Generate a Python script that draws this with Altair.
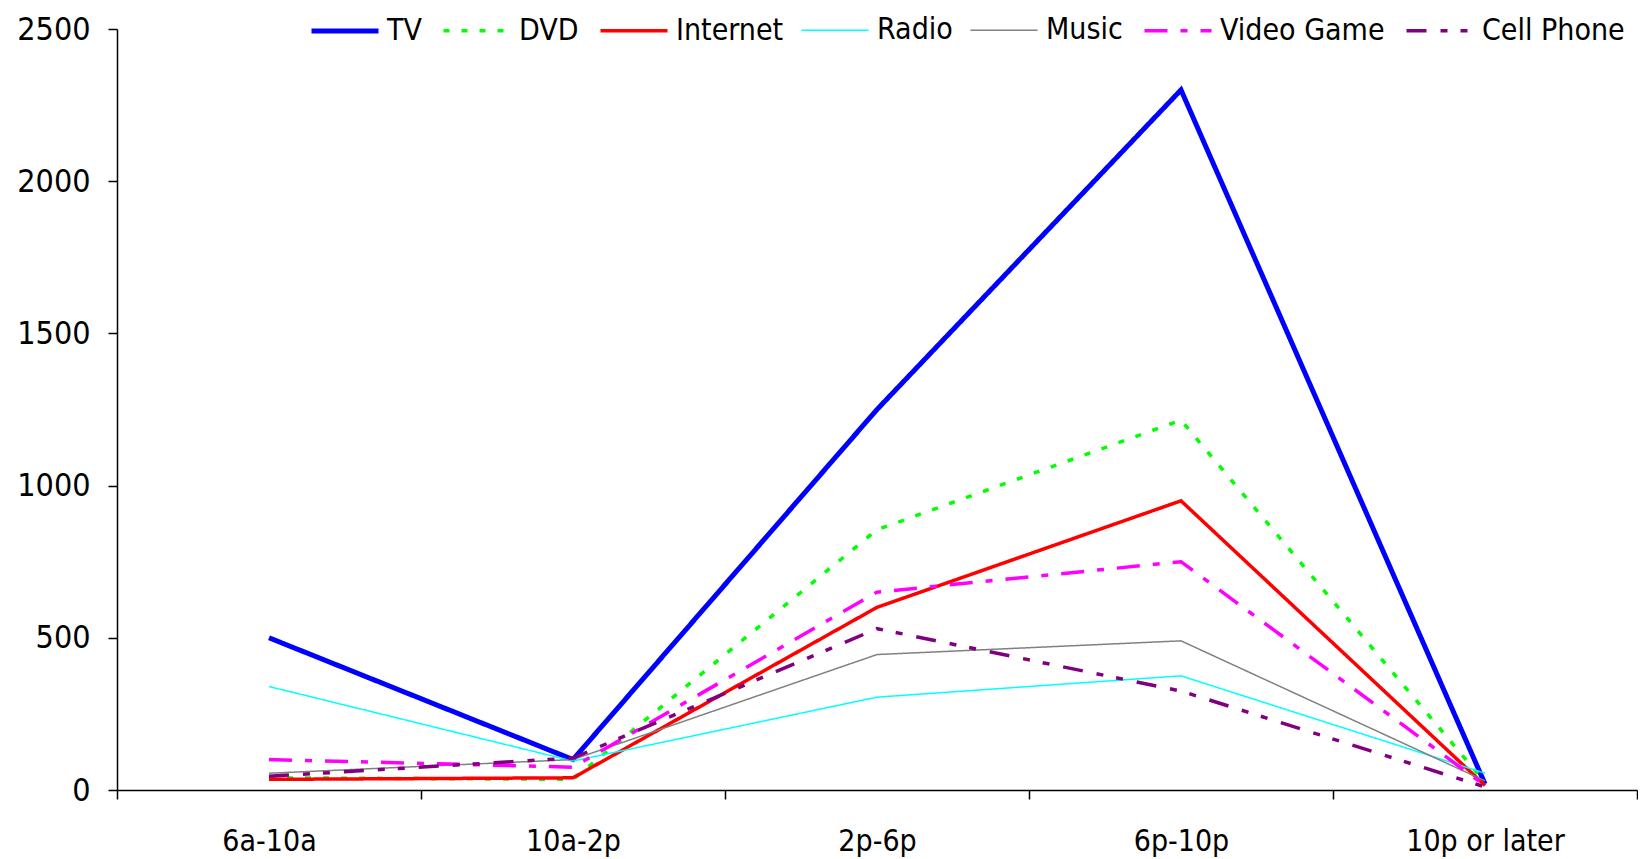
import altair as alt
import pandas as pd

periods = ["6a-10a", "10a-2p", "2p-6p", "6p-10p", "10p or later"]
series = ["TV", "DVD", "Internet", "Radio", "Music", "Video Game", "Cell Phone"]

tv = [500, 100, 1250, 2300, 20]
dvd = [40, 35, 855, 1215, 25]
internet = [35, 40, 600, 950, 15]
radio = [340, 95, 305, 375, 55]
music = [55, 100, 445, 490, 30]
video_game = [100, 75, 650, 750, 15]
cell_phone = [45, 105, 530, 325, 10]

values = [tv, dvd, internet, radio, music, video_game, cell_phone]

colors = ["#0000FF", "#00FF00", "#FF0000", "#00FFFF", "#808080", "#FF00FF", "#800080"]
widths = [5, 3.5, 3.5, 1.5, 1.5, 3.5, 3.5]
dashes = [[1, 0], [6, 12], [1, 0], [1, 0], [1, 0], [23, 13, 7, 13], [20, 14, 7, 13, 7, 14]]

rows = []
for s, vals in zip(series, values):
    for p, v in zip(periods, vals):
        rows.append({"series": s, "period": p, "value": v, "order": series.index(s)})
df = pd.DataFrame(rows)

FONT = "DejaVu Sans Condensed"

legend = alt.Legend(
    title=None, orient="none", direction="horizontal", columns=7,
    legendX=192, legendY=-34, symbolType="stroke", symbolSize=4489,
    labelFontSize=30, labelFont=FONT, labelColor="black", labelOffset=6,
    labelLimit=0, columnPadding=14, symbolOffset=0, padding=0,
)

chart = alt.Chart(df).mark_line().encode(
    x=alt.X("period:N", sort=periods,
            scale=alt.Scale(paddingInner=0, paddingOuter=0),
            axis=alt.Axis(title=None, labelAngle=0, tickBand="extent", labelFontSize=30,
                          labelFont=FONT, labelColor="black", labelPadding=27,
                          tickSize=9, tickColor="black", domainColor="black",
                          domainWidth=1.5, tickWidth=1.5, grid=False)),
    y=alt.Y("value:Q", scale=alt.Scale(domain=[0, 2500], nice=False),
            axis=alt.Axis(title=None, values=[0, 500, 1000, 1500, 2000, 2500], format="d",
                          labelFontSize=32, labelFont=FONT, labelColor="black",
                          labelPadding=18, tickSize=9, tickColor="black",
                          domainColor="black", domainWidth=1.5, tickWidth=1.5, grid=False)),
    color=alt.Color("series:N", sort=series,
                    scale=alt.Scale(domain=series, range=colors), legend=legend),
    strokeDash=alt.StrokeDash("series:N", sort=series,
                              scale=alt.Scale(domain=series, range=dashes), legend=legend),
    strokeWidth=alt.StrokeWidth("series:N", sort=series,
                                scale=alt.Scale(type="ordinal", domain=series, range=widths),
                                legend=legend),
    order=alt.Order("order:Q"),
).properties(
    width=1520, height=761,
    autosize=alt.AutoSizeParams(type="none"),
    padding={"left": 109, "top": 21, "right": 1, "bottom": 70},
).configure_view(stroke=None)

chart.save("out.html", embed_options={"renderer": "svg", "actions": False})
